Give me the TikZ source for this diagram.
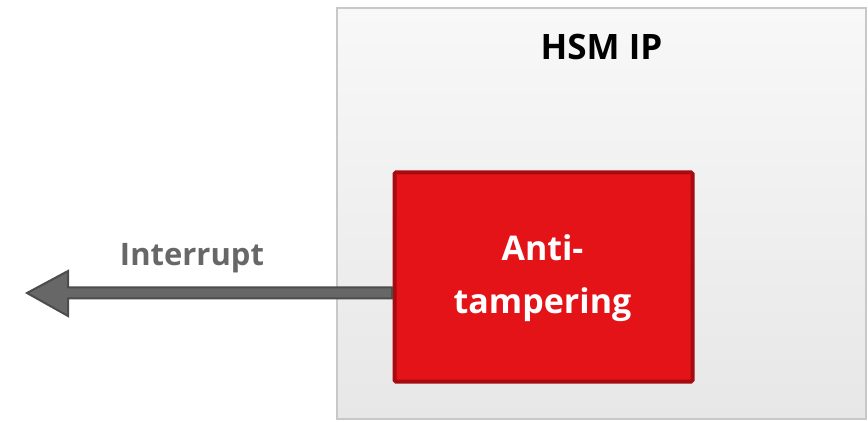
\documentclass[tikz,border=0pt]{standalone}
\usepackage{fontspec}
\setmainfont{Open Sans}
\usetikzlibrary{shadows,calc}
\definecolor{ipfillTop}{HTML}{F8F8F8}
\definecolor{ipfillBot}{HTML}{E8E7E7}
\definecolor{ipline}{HTML}{C8C8C8}
\definecolor{tamperfill}{HTML}{E31318}
\definecolor{tamperline}{HTML}{A70B10}
\definecolor{arrowfill}{HTML}{676767}
\definecolor{arrowline}{HTML}{4C4C4C}
\tikzset{
  ipbox/.style={draw=ipline, line width=1.6pt, top color=ipfillTop, bottom color=ipfillBot,
    minimum width=529pt, minimum height=411pt, inner sep=0pt,
    drop shadow={shadow xshift=1.2pt, shadow yshift=-1.2pt, opacity=0.25, fill=black}},
  tamperbox/.style={draw=tamperline, fill=tamperfill, line width=4pt, rounded corners=1.5pt,
    minimum width=298pt, minimum height=209pt, inner sep=0pt},
  titletext/.style={font=\fontsize{35}{40}\selectfont\bfseries, text=black},
  boxtext/.style={font=\fontsize{34}{53}\selectfont\bfseries, text=white, align=center},
  labeltext/.style={font=\fontsize{31}{36}\selectfont\bfseries, text=arrowfill},
  bigarrow/.style={fill=arrowfill, draw=arrowline, line width=2pt, line join=miter}
}
\begin{document}
\begin{tikzpicture}[x=1pt,y=-1pt]
  \useasboundingbox (0,0) rectangle (868,422);
  % outer IP block
  \node[ipbox] (hsm) at (601.5,213.5) {};
  \node[titletext] (hsmtitle) at (601.5,47.5) {HSM IP};
  % anti-tampering block
  \node[tamperbox] (anti) at (543.5,277) {};
  \node[boxtext] (antitext) at (542.5,278) {Anti-\\tampering};
  % interrupt arrow leaving the anti-tampering block
  \coordinate (tip) at (27,293);
  \coordinate (src) at ($(anti.west)+(-0.5,16)$);
  \path[bigarrow] ($(src)+(0,-5.5)$) -- ($(tip)+(41,-5.5)$) -- ($(tip)+(41,-22)$) -- (tip)
    -- ($(tip)+(41,23)$) -- ($(tip)+(41,5.5)$) -- ($(src)+(0,5.5)$) -- cycle;
  \node[labeltext] (intlabel) at (192,258) {Interrupt};
\end{tikzpicture}
\end{document}
